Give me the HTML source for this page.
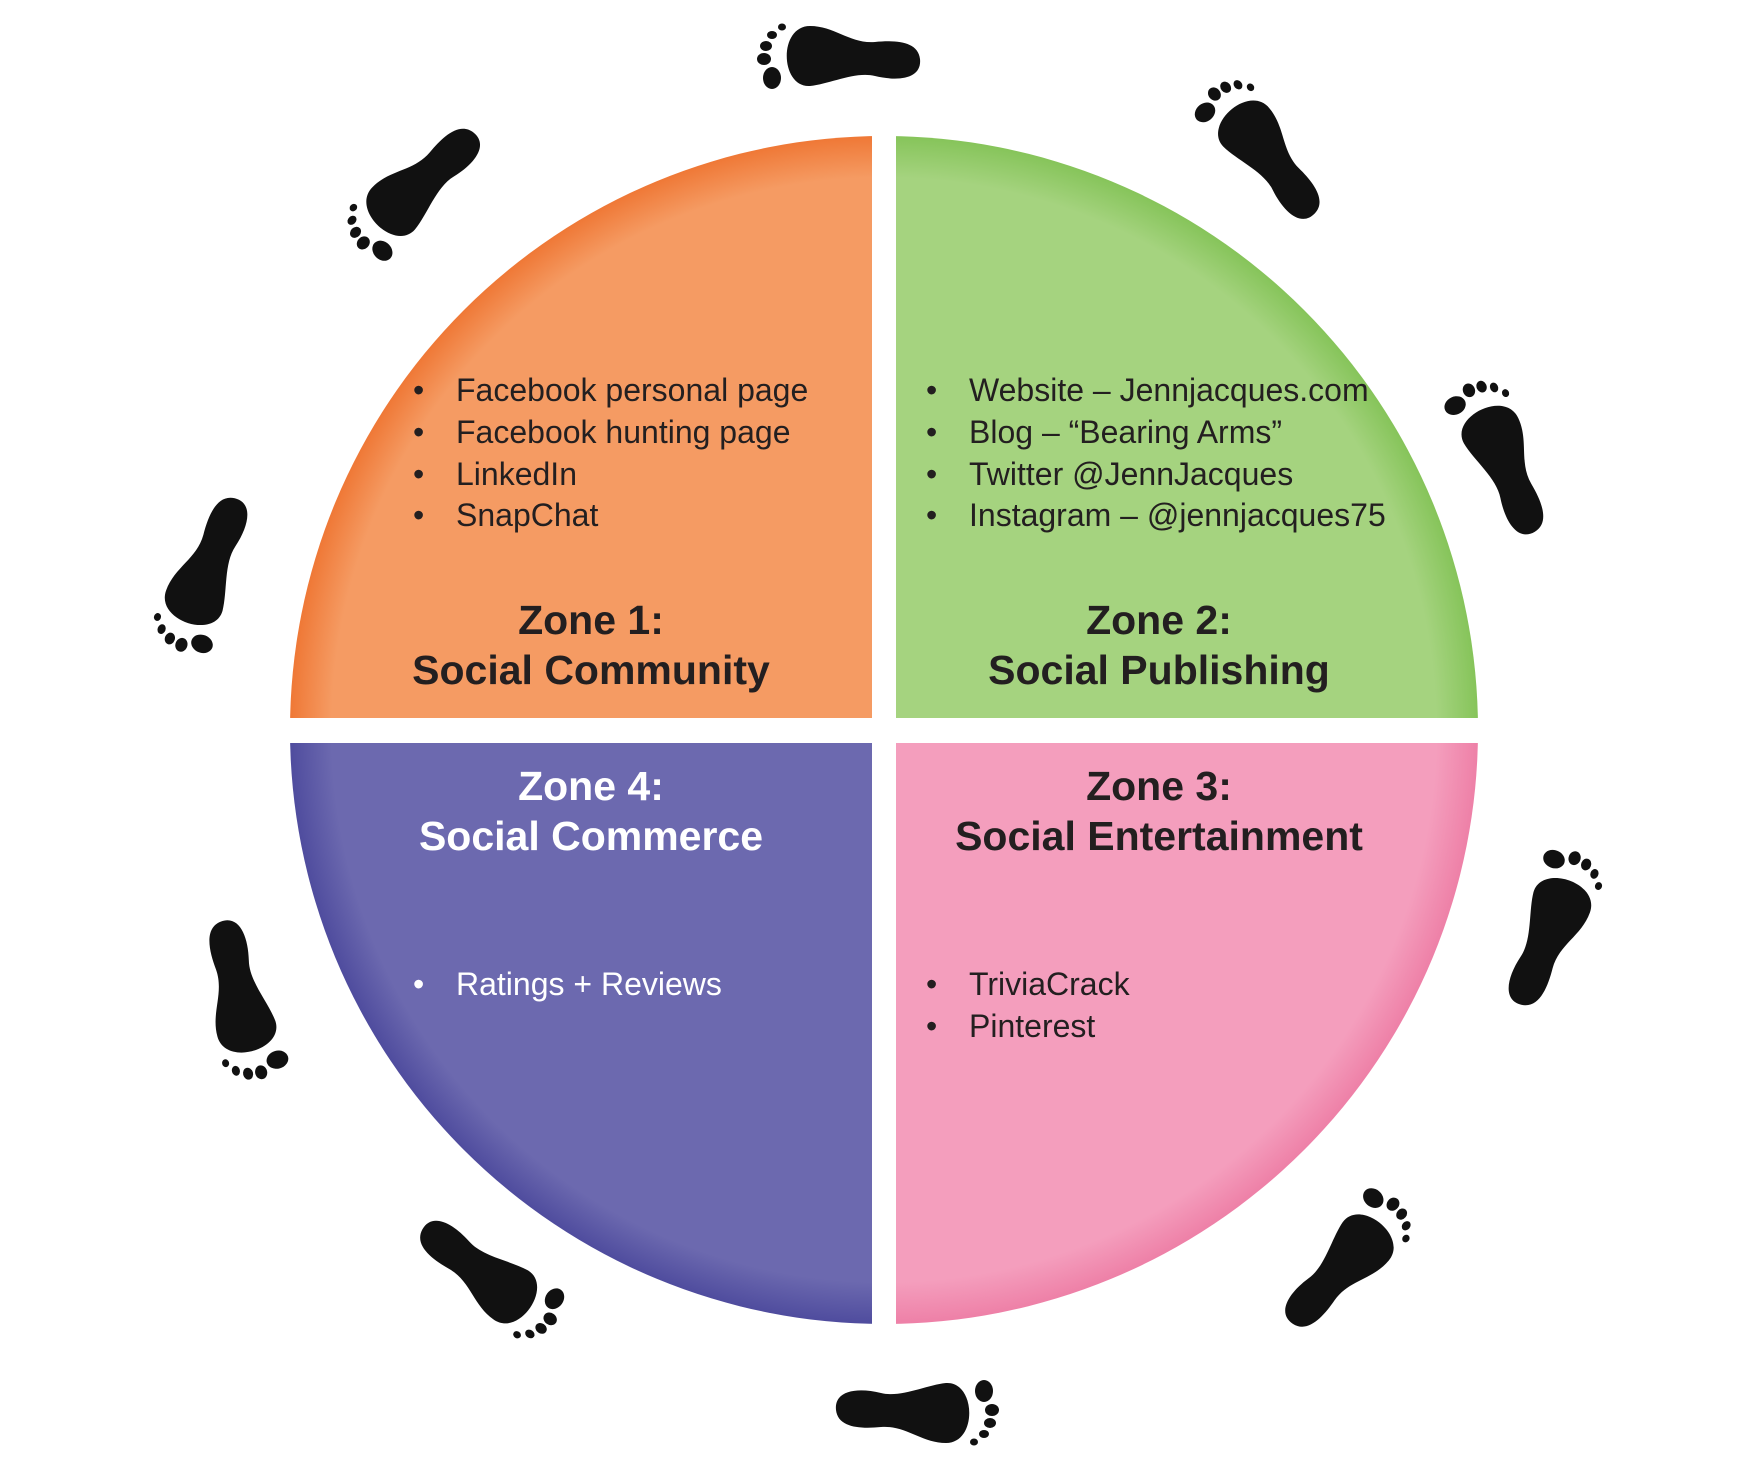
<!DOCTYPE html>
<html><head><meta charset="utf-8"><style>
html,body{margin:0;padding:0;background:#fff}
svg{display:block}
text{font-family:"Liberation Sans",Arial,sans-serif}
.b{font-size:32px;fill:#231f20}
.w{fill:#fff}
.t{font-size:41px;font-weight:bold;fill:#231f20;text-anchor:middle}
</style></head><body>
<svg width="1756" height="1464" viewBox="0 0 1756 1464" xmlns="http://www.w3.org/2000/svg">
<defs>
<clipPath id="c"><circle cx="884" cy="730" r="594"/></clipPath>
<radialGradient id="go" cx="884" cy="730" r="594" gradientUnits="userSpaceOnUse"><stop offset="0.93" stop-color="#F59B63"/><stop offset="1" stop-color="#EF7836"/></radialGradient>
<radialGradient id="gg" cx="884" cy="730" r="594" gradientUnits="userSpaceOnUse"><stop offset="0.93" stop-color="#A5D37F"/><stop offset="1" stop-color="#86C45A"/></radialGradient>
<radialGradient id="gp" cx="884" cy="730" r="594" gradientUnits="userSpaceOnUse"><stop offset="0.93" stop-color="#6C69AF"/><stop offset="1" stop-color="#4F4C9E"/></radialGradient>
<radialGradient id="gk" cx="884" cy="730" r="594" gradientUnits="userSpaceOnUse"><stop offset="0.93" stop-color="#F49EBD"/><stop offset="1" stop-color="#EE80A7"/></radialGradient>
<g id="foot">
<path d="M-30,-40 C-32,-70 30,-72 30,-40 C30,-15 12,0 14,25 C16,45 15,68 -3,70 C-22,72 -26,50 -20,25 C-15,5 -28,-20 -30,-40 Z" fill="#111"/>
<ellipse cx="-22" cy="-78" rx="11" ry="9" fill="#111"/>
<ellipse cx="-3" cy="-86" rx="6" ry="7" fill="#111"/>
<ellipse cx="10" cy="-84" rx="5" ry="6" fill="#111"/>
<ellipse cx="21" cy="-78" rx="4" ry="5" fill="#111"/>
<ellipse cx="29" cy="-68" rx="3.5" ry="4" fill="#111"/>
</g>
</defs>
<g clip-path="url(#c)">
<rect x="290" y="136" width="582" height="582" fill="url(#go)"/>
<rect x="896" y="136" width="582" height="582" fill="url(#gg)"/>
<rect x="290" y="743" width="582" height="600" fill="url(#gp)"/>
<rect x="896" y="743" width="582" height="600" fill="url(#gk)"/>
</g>
<g>
<text class="b" x="413" y="401">•</text><text class="b" x="456" y="401">Facebook personal page</text>
<text class="b" x="413" y="443">•</text><text class="b" x="456" y="443">Facebook hunting page</text>
<text class="b" x="413" y="485">•</text><text class="b" x="456" y="485">LinkedIn</text>
<text class="b" x="413" y="526">•</text><text class="b" x="456" y="526">SnapChat</text>
<text class="t" x="591" y="634">Zone 1:</text>
<text class="t" x="591" y="684">Social Community</text>

<text class="b" x="926" y="401">•</text><text class="b" x="969" y="401">Website – Jennjacques.com</text>
<text class="b" x="926" y="443">•</text><text class="b" x="969" y="443">Blog – “Bearing Arms”</text>
<text class="b" x="926" y="485">•</text><text class="b" x="969" y="485">Twitter @JennJacques</text>
<text class="b" x="926" y="526">•</text><text class="b" x="969" y="526">Instagram – @jennjacques75</text>
<text class="t" x="1159" y="634">Zone 2:</text>
<text class="t" x="1159" y="684">Social Publishing</text>

<text class="t" x="591" y="800" style="fill:#fff">Zone 4:</text>
<text class="t" x="591" y="850" style="fill:#fff">Social Commerce</text>
<text class="b w" x="413" y="995">•</text><text class="b w" x="456" y="995">Ratings + Reviews</text>

<text class="t" x="1159" y="800">Zone 3:</text>
<text class="t" x="1159" y="850">Social Entertainment</text>
<text class="b" x="926" y="995">•</text><text class="b" x="969" y="995">TriviaCrack</text>
<text class="b" x="926" y="1037">•</text><text class="b" x="969" y="1037">Pinterest</text>
</g>
<use href="#foot" transform="translate(850,56) rotate(-90)"/>
<use href="#foot" transform="translate(1272,158) rotate(-40)"/>
<use href="#foot" transform="translate(1508,467) rotate(-25)"/>
<use href="#foot" transform="translate(1548,940) rotate(20)"/>
<use href="#foot" transform="translate(1340,1272) rotate(40)"/>
<use href="#foot" transform="translate(906,1413) rotate(90)"/>
<use href="#foot" transform="translate(478,1272) rotate(125)"/>
<use href="#foot" transform="translate(236,990) rotate(165)"/>
<use href="#foot" transform="translate(208,563) rotate(200)"/>
<use href="#foot" transform="translate(422,180) rotate(225)"/>
</svg>
</body></html>
